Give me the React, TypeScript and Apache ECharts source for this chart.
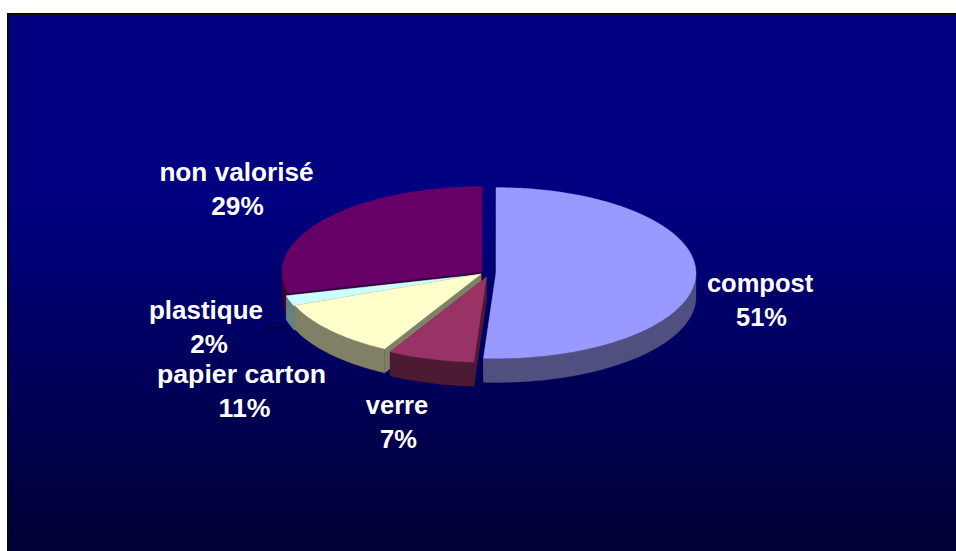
import React, { useEffect, useRef } from "react";
import * as echarts from "echarts";

const categories = ["compost", "verre", "papier carton", "plastique", "non valorisé"];
const values = [51, 7, 11, 2, 29];
const topColors = ["#9999FF", "#993366", "#FFFFCC", "#CCFFFF", "#660066"];
const wallColors = ["#4F4F80", "#4D1A33", "#808066", "#668080", "#330033"];
// pie layout: explosion-adjusted centres per slice
const sliceCenters = [[496, 273], [486.5, 277], [481, 274], [480, 274.5], [482, 272]];
const namePositions = [[760, 283], [397, 405], [241.5, 374], [206, 310], [236.5, 172]];
const percentPositions = [[761.5, 317], [398.5, 439], [244.5, 408], [209, 344], [237.5, 206]];
const labelFontSizes = [25.5, 25.5, 26.7, 26, 26.2];
const RX = 200;
const RY = 85.5;
const DEPTH = 24;
const paintOrder = [4, 3, 2, 1, 0];

const total = values.reduce((a, b) => a + b, 0);
const starts: number[] = [];
values.reduce((acc, v, i) => {
  starts[i] = acc;
  return acc + v;
}, 0);

function arcPoints(cx: number, cy: number, a0: number, a1: number) {
  const pts: number[][] = [];
  const n = Math.max(4, Math.ceil((a1 - a0) / 0.02));
  for (let k = 0; k <= n; k++) {
    const a = a0 + ((a1 - a0) * k) / n;
    pts.push([cx + RX * Math.sin(a), cy - RY * Math.cos(a)]);
  }
  return pts;
}

function renderSlice(params: any, api: any) {
  const i = paintOrder[params.dataIndex];
  const value = api.value(0);
  const a0 = (starts[i] / total) * Math.PI * 2;
  const a1 = a0 + (value / total) * Math.PI * 2;
  const [cx, cy] = sliceCenters[i];
  const top = arcPoints(cx, cy, a0, a1);
  const first = top[0];
  const last = top[top.length - 1];
  const down = (p: number[]) => [p[0], p[1] + DEPTH];
  const fillTop = { fill: topColors[i], stroke: topColors[i], lineWidth: 0.3 };
  const fillWall = { fill: wallColors[i], stroke: wallColors[i], lineWidth: 0.3 };
  const children: any[] = [];
  // radial cut walls
  children.push({
    type: "polygon",
    shape: { points: [[cx, cy], first, down(first), [cx, cy + DEPTH]] },
    style: fillWall,
  });
  children.push({
    type: "polygon",
    shape: { points: [[cx, cy], last, down(last), [cx, cy + DEPTH]] },
    style: fillWall,
  });
  // outer rim: only the part facing the viewer
  const lo = Math.max(a0, Math.PI / 2);
  const hi = Math.min(a1, (Math.PI * 3) / 2);
  if (hi > lo) {
    const rim = arcPoints(cx, cy, lo, hi);
    children.push({
      type: "polygon",
      shape: { points: [...rim, ...rim.slice().reverse().map(down)] },
      style: fillWall,
    });
  }
  children.push({
    type: "polygon",
    shape: { points: [[cx, cy], ...top] },
    style: fillTop,
  });
  return { type: "group", children };
}

function renderLabel(params: any, api: any) {
  const i = params.dataIndex;
  const line = (text: string, pos: number[]) => ({
    type: "text",
    x: pos[0],
    y: pos[1],
    style: {
      text,
      fill: "#FFFFFF",
      font: `bold ${labelFontSizes[i]}px "Liberation Sans", Arial, sans-serif`,
      align: "center",
      verticalAlign: "middle",
    },
  });
  return {
    type: "group",
    children: [
      line(categories[i], namePositions[i]),
      line(`${api.value(0)}%`, percentPositions[i]),
    ],
  };
}

export default function App() {
  const ref = useRef<HTMLDivElement>(null);
  useEffect(() => {
    document.body.style.margin = "0";
    const chart = echarts.init(ref.current!, undefined, { renderer: "svg" });
    chart.setOption({
      animation: false,
      backgroundColor: "#FFFFFF",
      graphic: [
        {
          type: "rect",
          z: -10,
          shape: { x: 8, y: 14, width: 950, height: 540 },
          style: {
            fill: new echarts.graphic.LinearGradient(0, 0, 0, 1, [
              { offset: 0, color: "#000080" },
              { offset: 0.35, color: "#000080" },
              { offset: 1, color: "#000033" },
            ]),
            stroke: "#0A0A0A",
            lineWidth: 2,
          },
        },
        {
          type: "polyline",
          z: 20,
          shape: { points: [[267, 328], [278, 328], [288, 326]] },
          style: { stroke: "#000000", lineWidth: 1, fill: "none" },
        },
      ],
      series: [
        {
          type: "custom",
          coordinateSystem: "none",
          renderItem: renderSlice,
          data: paintOrder.map((i) => [values[i]]),
          z: 2,
          silent: true,
        },
        {
          type: "custom",
          coordinateSystem: "none",
          renderItem: renderLabel,
          data: values.map((v) => [v]),
          z: 3,
          silent: true,
        },
      ],
    });
    return () => chart.dispose();
  }, []);
  return <div ref={ref} style={{ width: 956, height: 551 }} />;
}
